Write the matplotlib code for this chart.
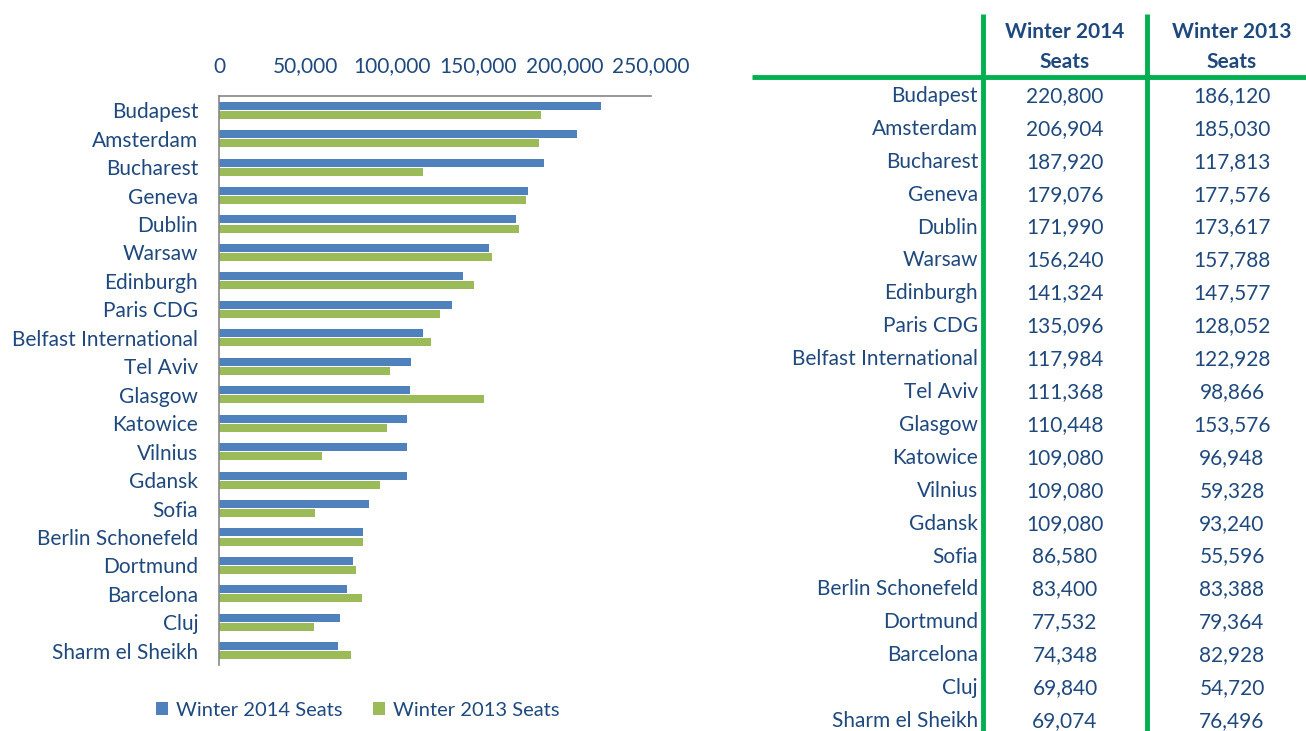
import matplotlib
matplotlib.use("Agg")
import matplotlib.pyplot as plt
from matplotlib.patches import Patch
from matplotlib.ticker import FuncFormatter

cities = ["Budapest", "Amsterdam", "Bucharest", "Geneva", "Dublin", "Warsaw",
          "Edinburgh", "Paris CDG", "Belfast International", "Tel Aviv", "Glasgow",
          "Katowice", "Vilnius", "Gdansk", "Sofia", "Berlin Schonefeld", "Dortmund",
          "Barcelona", "Cluj", "Sharm el Sheikh"]
seats_2014 = [220800, 206904, 187920, 179076, 171990, 156240, 141324, 135096,
              117984, 111368, 110448, 109080, 109080, 109080, 86580, 83400,
              77532, 74348, 69840, 69074]
seats_2013 = [186120, 185030, 117813, 177576, 173617, 157788, 147577, 128052,
              122928, 98866, 153576, 96948, 59328, 93240, 55596, 83388,
              79364, 82928, 54720, 76496]
series_names = ["Winter 2014 Seats", "Winter 2013 Seats"]
x_ticks = [0, 50000, 100000, 150000, 200000, 250000]

TXT = "#1F497D"
BLUE = "#4F81BD"
GREEN = "#9BBB59"
LINE_GREEN = "#00B050"
FONT = "Lato"
FS = 15

plt.rcParams["font.family"] = [FONT, "DejaVu Sans"]

W, H = 1306, 731
fig = plt.figure(figsize=(W / 100, H / 100), dpi=100)

n = len(cities)
top_px, bot_px = 96, 665
ax = fig.add_axes([219 / W, 1 - bot_px / H, (651 - 219) / W, (bot_px - top_px) / H])
ys = list(range(n))
bh = 0.28
ax.barh([y - 0.16 for y in ys], seats_2014, height=bh, color=BLUE)
ax.barh([y + 0.16 for y in ys], seats_2013, height=bh, color=GREEN)
ax.set_ylim(n - 0.5, -0.5)
ax.set_xlim(0, 250000)
ax.set_yticks(ys)
ax.set_yticklabels(cities)
ax.set_xticks(x_ticks)
ax.xaxis.set_major_formatter(FuncFormatter(lambda v, p: f"{int(v):,}"))
ax.xaxis.tick_top()
ax.tick_params(axis="x", length=0, pad=14, labelsize=FS, labelcolor=TXT)
ax.tick_params(axis="y", length=0, pad=15, labelsize=FS, labelcolor=TXT)
for s in ["right", "bottom"]:
    ax.spines[s].set_visible(False)
for s in ["top", "left"]:
    ax.spines[s].set_color("#868686")
    ax.spines[s].set_linewidth(1.2)

handles = [Patch(facecolor=BLUE), Patch(facecolor=GREEN)]
fig.legend(handles, series_names, loc="center", bbox_to_anchor=(358 / W, 1 - 710 / H),
           ncol=2, frameon=False, fontsize=14.5, labelcolor=TXT,
           handlelength=0.6, handleheight=0.6, handletextpad=0.4, columnspacing=1.5)

# table on the right
tax = fig.add_axes([0, 0, 1, 1])
tax.set_xlim(0, W)
tax.set_ylim(H, 0)
tax.axis("off")
tax.plot([752, W], [77, 77], color=LINE_GREEN, lw=3.5, solid_capstyle="butt")
for xv in [983, 1147]:
    tax.plot([xv, xv], [14, H], color=LINE_GREEN, lw=3.5, solid_capstyle="butt")
col1, col2 = 1065, 1232
for cx, name in zip([col1, col2], series_names):
    a, b = name.rsplit(" ", 1)
    tax.text(cx, 32, a, ha="center", va="center", fontsize=FS, weight="bold", color=TXT)
    tax.text(cx, 62, b, ha="center", va="center", fontsize=FS, weight="bold", color=TXT)
row0, dy = 96, (721 - 96) / (n - 1)
for i, (c, v1, v2) in enumerate(zip(cities, seats_2014, seats_2013)):
    y = row0 + i * dy
    tax.text(978, y, c, ha="right", va="center", fontsize=FS, color=TXT)
    tax.text(col1, y, f"{v1:,}", ha="center", va="center", fontsize=FS, color=TXT)
    tax.text(col2, y, f"{v2:,}", ha="center", va="center", fontsize=FS, color=TXT)

fig.savefig("out.png", dpi=100)
